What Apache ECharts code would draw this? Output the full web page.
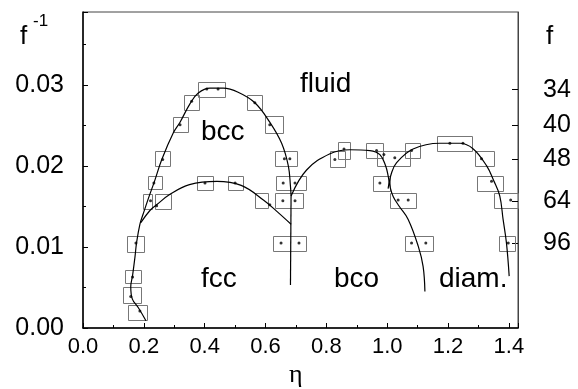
<!DOCTYPE html>
<html><head><meta charset="utf-8">
<script src="https://cdn.jsdelivr.net/npm/echarts@6/dist/echarts.min.js"></script>
<style>html,body{margin:0;padding:0;background:#fff}#c{width:578px;height:389px}</style>
</head><body><div id="c"></div>
<script>
// right-axis tick labels (f values, placed at f^-1)
const fTicks = [34, 40, 48, 64, 96];

// phase boundaries (eta, 1/f)
const curveFluidBcc = [[0.207,0.0009],[0.182,0.0025],[0.162,0.0036],[0.157,0.0051],[0.163,0.0065],[0.171,0.0088],[0.176,0.0105],[0.187,0.0128],[0.198,0.0141],[0.215,0.0160],[0.235,0.0181],[0.259,0.0208],[0.297,0.0241],[0.319,0.0254],[0.352,0.0277],[0.379,0.0290],[0.417,0.0296],[0.461,0.0296],[0.510,0.0291],[0.565,0.0278],[0.614,0.0254],[0.653,0.0228],[0.675,0.0200],[0.682,0.0175],[0.684,0.0163]];
const lineFccBco = [[0.684,0.0163],[0.682,0.0053]];
const curveFcc = [[0.190,0.0130],[0.220,0.0145],[0.242,0.0152],[0.286,0.0165],[0.350,0.0177],[0.440,0.0181],[0.520,0.0176],[0.593,0.0158],[0.640,0.0143],[0.684,0.0128]];
const curveBco = [[0.684,0.0163],[0.735,0.0195],[0.812,0.0215],[0.877,0.0220],[0.943,0.0219],[0.976,0.0214],[0.995,0.0200],[1.003,0.0188],[1.009,0.0175],[1.020,0.0162],[1.040,0.0150],[1.069,0.0134],[1.102,0.0101],[1.118,0.0076],[1.124,0.0045]];
const curveDiamond = [[1.003,0.0172],[1.014,0.0191],[1.031,0.0204],[1.085,0.0221],[1.173,0.0228],[1.239,0.0228],[1.283,0.0221],[1.327,0.0200],[1.350,0.0182],[1.370,0.0163],[1.381,0.0134],[1.392,0.0105],[1.401,0.0064]];

// error boxes: [etaLow, etaHigh, yLow, yHigh]
const errorBoxes = [
 [0.148,0.210,0.0010,0.0029],[0.131,0.191,0.0030,0.0050],[0.138,0.191,0.0056,0.0072],[0.145,0.200,0.0094,0.0114],
 [0.197,0.227,0.0147,0.0165],[0.237,0.289,0.0147,0.0165],[0.214,0.260,0.0171,0.0187],[0.237,0.286,0.0199,0.0218],
 [0.296,0.345,0.0241,0.0260],[0.332,0.381,0.0270,0.0288],[0.378,0.466,0.0286,0.0304],[0.375,0.427,0.0170,0.0187],
 [0.477,0.526,0.0170,0.0187],[0.539,0.588,0.0270,0.0288],[0.598,0.657,0.0241,0.0262],[0.631,0.703,0.0199,0.0218],
 [0.634,0.733,0.0170,0.0187],[0.565,0.608,0.0147,0.0166],[0.631,0.723,0.0147,0.0166],[0.624,0.733,0.0095,0.0113],
 [0.812,0.861,0.0198,0.0218],[0.838,0.878,0.0208,0.0229],[0.930,0.986,0.0209,0.0228],[0.966,1.075,0.0199,0.0218],
 [1.058,1.107,0.0209,0.0228],[0.953,1.009,0.0170,0.0188],[1.009,1.094,0.0147,0.0166],[1.163,1.278,0.0218,0.0237],
 [1.288,1.351,0.0199,0.0218],[1.295,1.380,0.0170,0.0188],[1.351,1.430,0.0147,0.0166],[1.058,1.150,0.0094,0.0113],
 [1.367,1.420,0.0094,0.0113]
];

// simulation points: [eta, 1/f]
const simPoints = [[0.187,0.0021],[0.157,0.0039],[0.163,0.0063],[0.174,0.0105],[0.222,0.0157],[0.242,0.0151],[0.233,0.0179],[0.262,0.0208],[0.319,0.0251],[0.357,0.0280],[0.407,0.0295],[0.444,0.0295],[0.401,0.0179],[0.500,0.0179],[0.565,0.0278],[0.614,0.0251],[0.662,0.0209],[0.680,0.0209],[0.658,0.0179],[0.697,0.0179],[0.614,0.0152],[0.657,0.0157],[0.697,0.0157],[0.651,0.0105],[0.710,0.0105],[0.828,0.0208],[0.858,0.0221],[0.965,0.0219],[0.989,0.0214],[1.025,0.0210],[1.080,0.0219],[0.976,0.0179],[1.036,0.0158],[1.069,0.0158],[1.206,0.0228],[1.249,0.0228],[1.310,0.0209],[1.343,0.0181],[1.406,0.0158],[1.080,0.0105],[1.127,0.0105],[1.398,0.0105]];

const FONT = 'Liberation Sans';
const chart = echarts.init(document.getElementById('c'), null, {renderer:'canvas'});
const lineSeries = (data) => ({type:'line', data, smooth:0.4, showSymbol:false, symbol:'none', z:3,
  lineStyle:{color:'#000', width:1.2}, animation:false});

chart.setOption({
  animation:false,
  backgroundColor:'#fff',
  grid:{left:83, right:60, top:12, bottom:61, show:true, borderColor:'#444', borderWidth:1},
  xAxis:{type:'value', min:0, max:1.43, interval:0.2,
    axisLine:{lineStyle:{color:'#000', width:1.5}},
    axisTick:{inside:true, length:5, lineStyle:{color:'#000'}},
    minorTick:{show:true, splitNumber:2, length:3, lineStyle:{color:'#000'}},
    splitLine:{show:false},
    axisLabel:{showMaxLabel:false, formatter:v=>v.toFixed(1), fontSize:22, fontFamily:FONT, color:'#000', margin:8}},
  yAxis:[
    {type:'value', min:0, max:0.039, interval:0.01,
     axisLine:{show:true, lineStyle:{color:'#000', width:1.5}},
     axisTick:{inside:true, length:5, lineStyle:{color:'#000'}},
     minorTick:{show:true, splitNumber:2, length:3, lineStyle:{color:'#000'}},
     splitLine:{show:false},
     axisLabel:{showMaxLabel:false, formatter:v=>v.toFixed(2), fontSize:25, fontFamily:FONT, color:'#000', margin:19}},
    {type:'value', position:'right', min:0, max:0.039,
     axisLine:{show:true, lineStyle:{color:'#444', width:1}},
     axisTick:{show:true, inside:true, length:6, customValues:fTicks.map(f=>1/f), lineStyle:{color:'#000'}},
     splitLine:{show:false},
     axisLabel:{customValues:fTicks.map(f=>1/f), formatter:v=>String(Math.round(1/v)), fontSize:25, fontFamily:FONT, color:'#000', margin:25}}
  ],
  series:[
    {type:'custom', data:errorBoxes, z:1, encode:{x:[0,1], y:[2,3]},
     renderItem:(params, api)=>{
       const p1 = api.coord([api.value(0), api.value(3)]);
       const p2 = api.coord([api.value(1), api.value(2)]);
       const x = Math.round(p1[0])+0.5, y = Math.round(p1[1])+0.5;
       return {type:'rect', shape:{x, y, width:Math.round(p2[0]-p1[0]), height:Math.round(p2[1]-p1[1])},
         style:{fill:'none', stroke:'#777', lineWidth:1}};
     }},
    lineSeries(curveFluidBcc),
    lineSeries(lineFccBco),
    lineSeries(curveFcc),
    lineSeries(curveBco),
    lineSeries(curveDiamond),
    {type:'scatter', data:simPoints, symbolSize:3, z:4, itemStyle:{color:'#000'}}
  ],
  graphic:[
    {type:'text', left:300, top:70, style:{text:'fluid', font:'28px '+FONT, fill:'#000'}},
    {type:'text', left:201, top:118, style:{text:'bcc', font:'28px '+FONT, fill:'#000'}},
    {type:'text', left:201, top:265, style:{text:'fcc', font:'28px '+FONT, fill:'#000'}},
    {type:'text', left:334, top:265, style:{text:'bco', font:'28px '+FONT, fill:'#000'}},
    {type:'text', left:439, top:265, style:{text:'diam.', font:'28px '+FONT, fill:'#000'}},
    {type:'text', left:20, top:24, style:{text:'f', font:'26px '+FONT, fill:'#000'}},
    {type:'text', left:33, top:13, style:{text:'-1', font:'17px '+FONT, fill:'#000'}},
    {type:'text', left:546, top:24, style:{text:'f', font:'26px '+FONT, fill:'#000'}},
    {type:'text', left:289, top:362, style:{text:'η', font:'26px Liberation Serif', fill:'#000'}}
  ]
});
</script></body></html>
